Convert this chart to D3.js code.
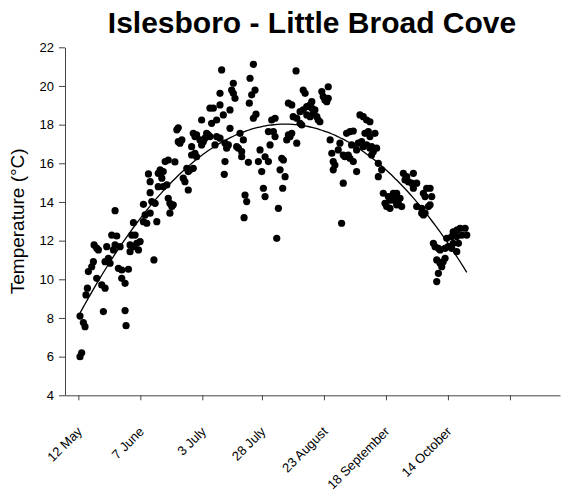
<!DOCTYPE html>
<html>
<head>
<meta charset="utf-8">
<script src="https://cdn.jsdelivr.net/npm/d3@7"></script>
<style>
  body { margin: 0; background: #fff; }
  text { font-family: Arial, "Liberation Sans", sans-serif; fill: #000; }
</style>
</head>
<body>
<svg id="chart" width="565" height="495"></svg>
<script>
// Chart text
const chartTitle = "Islesboro - Little Broad Cove";
const yAxisTitle = "Temperature (°C)";

// X axis: days counted from 12 May, with date labels
const xTickDays = [0, 26, 52, 77, 103, 129, 155, 181];
const xTickLabels = ["12 May", "7 June", "3 July", "28 July", "23 August", "18 September", "14 October", ""];

// Y axis ticks (°C)
const yTickValues = [4, 6, 8, 10, 12, 14, 16, 18, 20, 22];

// Observations: day offset from 12 May
const days = [
  0.7,2.1,2.8,1.4,0.7,10.5,19.6,20.0,3.2,3.8,9.8,11.2,7.7,4.2,5.6,6.3,11.2,12.6,13.3,16.8,
  18.2,21.0,18.2,19.6,6.6,8.4,7.7,11.9,14.7,15.4,14.0,16.1,22.4,23.8,21.7,23.1,24.5,25.2,21.7,17.5,
  25.9,31.7,15.4,23.1,27.3,28.7,28.0,27.3,30.1,30.8,32.2,32.9,29.4,30.1,30.1,33.5,34.3,35.6,35.0,33.5,
  35.6,37.1,37.7,38.4,39.2,38.4,39.8,36.4,37.7,40.5,
  41.3,41.9,41.9,42.6,43.4,44.0,44.7,46.1,45.5,46.1,46.8,48.2,47.5,48.9,49.6,48.2,48.9,49.6,47.5,51.0,
  51.7,52.4,53.1,53.8,54.5,55.2,51.7,55.9,58.0,55.2,56.6,59.4,60.8,59.4,60.1,64.3,65.0,65.7,65.0,63.6,
  57.3,58.0,59.4,61.5,62.9,62.2,63.6,66.4,67.1,68.5,67.8,69.2,68.5,71.3,61.5,61.2,69.9,70.6,69.5,73.4,
  72.0,74.1,72.7,71.7,74.5,73.4,75.5,76.9,76.2,78.3,79.7,77.6,78.3,80.4,79.7,81.8,82.5,81.1,82.5,83.9,
  83.2,
  85.3,86.0,84.6,86.7,85.7,87.4,88.8,89.5,88.1,91.6,91.3,88.1,89.5,90.1,91.6,93.0,93.7,94.3,95.1,93.0,
  94.3,95.8,97.2,97.9,95.8,97.2,98.5,100.0,100.6,101.3,97.9,99.2,102.1,102.7,103.4,104.8,104.8,104.2,105.6,106.3,
  106.9,107.6,106.9,109.0,109.7,111.1,111.8,113.2,113.9,115.3,111.1,110.4,112.5,113.9,115.3,114.6,116.7,116.7,117.4,118.8,
  118.1,119.5,120.9,122.3,120.2,121.6,122.3,124.4,119.5,120.9,122.3,123.0,123.7,125.1,125.8,125.8,123.0,
  127.2,136.3,137.7,140.5,137.0,138.4,139.8,141.9,140.5,127.9,130.0,130.7,128.6,129.3,130.7,132.1,132.8,133.5,134.9,134.2,
  133.5,132.1,135.6,144.7,146.1,147.5,148.2,145.4,141.9,144.0,146.8,147.5,144.7,144.0,145.4,148.9,149.6,151.0,151.7,153.8,
  155.1,154.5,156.6,157.2,158.7,160.1,162.2,162.9,160.8,158.7,159.4,157.2,156.6,158.7,150.3,151.7,153.0,153.8,152.4,151.0,
  150.3
];

// Observations: water temperature (°C)
const temps = [
  8.10,7.76,7.55,6.20,6.00,8.33,8.38,7.60,9.19,9.54,9.71,9.54,10.05,10.40,10.65,10.91,10.91,11.09,10.83,10.57,
  10.48,10.52,10.05,9.79,11.78,11.52,11.61,11.69,11.52,11.78,12.29,12.24,12.29,12.29,11.78,11.69,11.86,11.52,11.43,11.69,
  11.95,11.00,13.55,12.93,12.98,12.90,13.33,13.88,13.42,14.02,13.93,12.98,15.45,15.05,14.48,15.48,15.66,15.57,15.23,14.79,
  14.79,14.88,14.19,13.93,13.76,13.42,13.85,16.09,16.17,16.07,
  17.73,17.84,17.12,17.04,17.21,15.23,15.05,14.62,15.74,15.57,15.66,15.74,16.43,16.52,16.34,17.55,17.38,17.47,16.86,17.21,
  16.95,17.12,17.30,17.55,17.47,17.38,18.24,18.07,18.24,18.85,18.85,19.02,18.50,19.62,20.83,19.79,19.62,19.36,20.14,18.76,
  16.95,17.38,17.30,17.04,16.95,16.78,17.81,16.86,16.78,16.60,17.55,17.21,16.34,16.05,16.09,15.43,14.36,14.02,13.19,21.12,
  20.40,19.79,19.54,19.11,18.54,18.33,16.09,15.57,16.69,16.34,16.09,14.71,14.28,16.95,17.64,17.64,17.38,18.24,18.33,13.67,
  12.12,
  16.26,16.17,15.66,15.31,14.71,17.21,17.38,17.55,17.47,17.04,20.78,19.11,19.02,18.41,18.33,18.07,17.98,19.79,19.62,18.67,
  18.76,18.93,19.02,19.19,18.50,18.41,18.59,18.41,18.24,18.15,18.85,18.76,19.71,19.45,19.28,19.36,19.96,19.19,17.21,16.52,
  16.09,15.91,15.66,16.69,17.04,16.43,16.34,16.43,16.26,16.09,14.97,12.90,17.55,17.64,17.67,16.95,16.69,15.57,17.04,17.12,
  18.50,18.41,18.24,18.15,17.55,17.64,17.38,17.55,16.86,16.95,16.78,16.86,16.60,16.78,16.00,15.31,16.43,
  15.66,15.48,15.31,15.48,15.14,15.05,14.97,14.97,14.71,14.45,14.28,14.10,13.93,13.76,13.67,14.10,14.28,14.45,14.19,13.93,
  13.85,14.45,13.76,14.45,14.71,14.71,14.28,14.28,13.76,13.67,13.76,13.85,13.33,13.42,13.42,11.86,11.69,11.60,11.52,11.60,
  11.69,12.12,12.21,12.46,12.55,12.64,12.64,12.29,12.29,12.21,11.86,11.86,11.60,11.43,11.00,10.83,10.91,11.09,10.65,10.31,
  9.88
];

const points = days.map((d, i) => ({ day: d, temp: temps[i] }));

const svg = d3.select("#chart");

const x = d3.scaleLinear().domain([-5.6, 202]).range([65, 560]);
const y = d3.scaleLinear().domain([4, 22]).range([395.3, 47.3]);

// Title
svg.append("text")
  .attr("x", 312).attr("y", 33)
  .attr("text-anchor", "middle")
  .style("font-size", "30px").style("font-weight", "bold")
  .text(chartTitle);

// Y axis
const yAxis = svg.append("g")
  .attr("transform", `translate(${x.range()[0]},0)`)
  .call(d3.axisLeft(y).tickValues(yTickValues).tickSize(6).tickSizeOuter(0).tickPadding(5));
yAxis.selectAll("text").style("font-size", "13px");

// X axis with rotated date labels
const xAxis = svg.append("g")
  .attr("transform", `translate(0,${y.range()[0]})`)
  .call(d3.axisBottom(x).tickValues(xTickDays)
    .tickFormat((d, i) => xTickLabels[i]).tickSize(5).tickSizeOuter(0));
xAxis.selectAll("text")
  .attr("x", 0).attr("y", 0).attr("dy", 0)
  .attr("text-anchor", "end")
  .attr("transform", "translate(4,37) rotate(-45)")
  .style("font-size", "13px");

svg.selectAll(".domain, .tick line").attr("stroke", "#444");

// Y axis title
svg.append("text")
  .attr("transform", `translate(24,${(y.range()[0] + y.range()[1]) / 2}) rotate(-90)`)
  .attr("text-anchor", "middle")
  .style("font-size", "19px")
  .text(yAxisTitle);

// Second-order polynomial trend (least squares) through the observations
function quadFit(pts) {
  let n = pts.length, sx = 0, sx2 = 0, sx3 = 0, sx4 = 0, sy = 0, sxy = 0, sx2y = 0;
  pts.forEach(p => {
    const a = p.day, b = p.temp;
    sx += a; sx2 += a * a; sx3 += a * a * a; sx4 += a * a * a * a;
    sy += b; sxy += a * b; sx2y += a * a * b;
  });
  const M = [[n, sx, sx2, sy], [sx, sx2, sx3, sxy], [sx2, sx3, sx4, sx2y]];
  for (let c = 0; c < 3; c++) {
    for (let r = c + 1; r < 3; r++) {
      const f = M[r][c] / M[c][c];
      for (let k = c; k < 4; k++) M[r][k] -= f * M[c][k];
    }
  }
  const coef = [0, 0, 0];
  for (let r = 2; r >= 0; r--) {
    let s = M[r][3];
    for (let k = r + 1; k < 3; k++) s -= M[r][k] * coef[k];
    coef[r] = s / M[r][r];
  }
  return coef;
}
const [c0, c1, c2] = quadFit(points);
const [dMin, dMax] = d3.extent(days);
const trend = d3.range(0, 101).map(i => {
  const d = dMin + (dMax - dMin) * i / 100;
  return { day: d, temp: c0 + c1 * d + c2 * d * d };
});

// Observation dots
svg.append("g").selectAll("circle")
  .data(points).join("circle")
  .attr("cx", d => x(d.day))
  .attr("cy", d => y(d.temp))
  .attr("r", 3.6)
  .attr("fill", "#000");

// Trend curve
svg.append("path")
  .datum(trend)
  .attr("fill", "none")
  .attr("stroke", "#000")
  .attr("stroke-width", 1.3)
  .attr("d", d3.line().x(d => x(d.day)).y(d => y(d.temp)).curve(d3.curveBasis));
</script>
</body>
</html>
